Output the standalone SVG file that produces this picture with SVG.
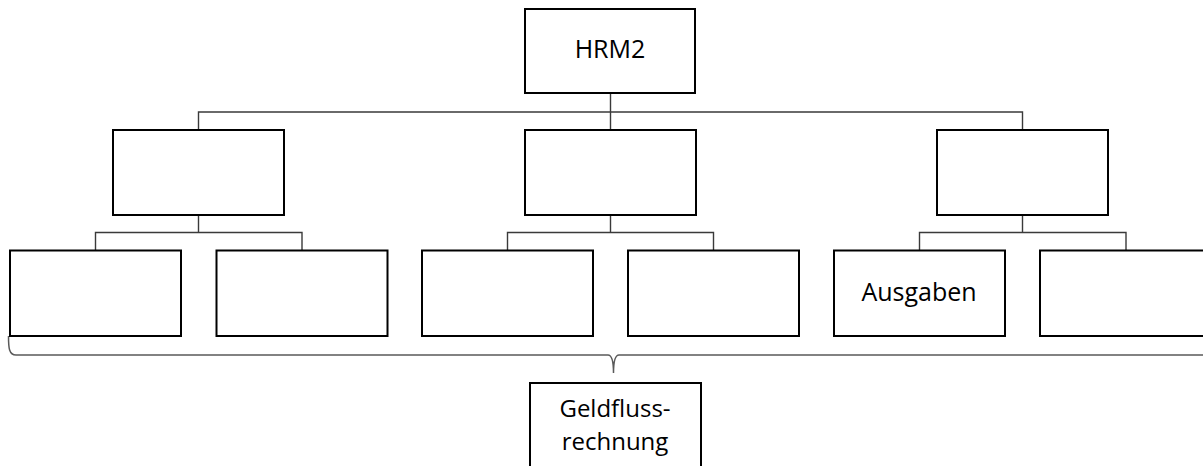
<svg xmlns="http://www.w3.org/2000/svg" width="1203" height="466" viewBox="0 0 1203 466">
<style>
.box{fill:#fff;stroke:#000;stroke-width:2}
.con{fill:none;stroke:#3a3a3a;stroke-width:1.4}
.brace{fill:none;stroke:#5a5a5a;stroke-width:1.5}
.lbl{font-family:"Open Sans","Liberation Sans",sans-serif;font-size:25px;fill:#000;text-anchor:middle}
.sm{font-size:24px}
</style>
<rect width="1203" height="466" fill="#fff"/>
<g id="connectors">
<path class="con" d="M610.5 93V130M198.5 130V112H1022.5V130"/>
<path class="con" d="M198.5 215V232.5M95.5 250V232.5H302V250"/>
<path class="con" d="M610.5 215V232.5M507.5 250V232.5H713.5V250"/>
<path class="con" d="M1022.5 215V232.5M919.5 250V232.5H1126V250"/>
<path class="brace" d="M8.5 336C8.5 348 9 355 16 355H608C612 355 613.5 362 613.5 373C613.5 362 615 355 619 355H1210"/>
</g>
<g id="n-hrm2"><rect class="box" x="525" y="9" width="170" height="84"/><text class="lbl" x="610" y="58">HRM2</text></g>
<g id="n-l2a"><rect class="box" x="113" y="130" width="171" height="85"/></g>
<g id="n-l2b"><rect class="box" x="525" y="130" width="171" height="85"/></g>
<g id="n-l2c"><rect class="box" x="937" y="130" width="171" height="85"/></g>
<g id="n-leaf1"><rect class="box" x="10" y="250.5" width="171" height="85.5"/></g>
<g id="n-leaf2"><rect class="box" x="216.5" y="250.5" width="171" height="85.5"/></g>
<g id="n-leaf3"><rect class="box" x="422" y="250.5" width="171" height="85.5"/></g>
<g id="n-leaf4"><rect class="box" x="628" y="250.5" width="171" height="85.5"/></g>
<g id="n-ausgaben"><rect class="box" x="834" y="250.5" width="171" height="85.5"/><text class="lbl" x="919" y="301">Ausgaben</text></g>
<g id="n-leaf6"><rect class="box" x="1040" y="250.5" width="171" height="85.5"/></g>
<g id="n-geldfluss"><rect class="box" x="530" y="383" width="171" height="90"/><text class="lbl sm" x="615" y="417">Geldfluss-</text><text class="lbl sm" x="615" y="450">rechnung</text></g>
</svg>
